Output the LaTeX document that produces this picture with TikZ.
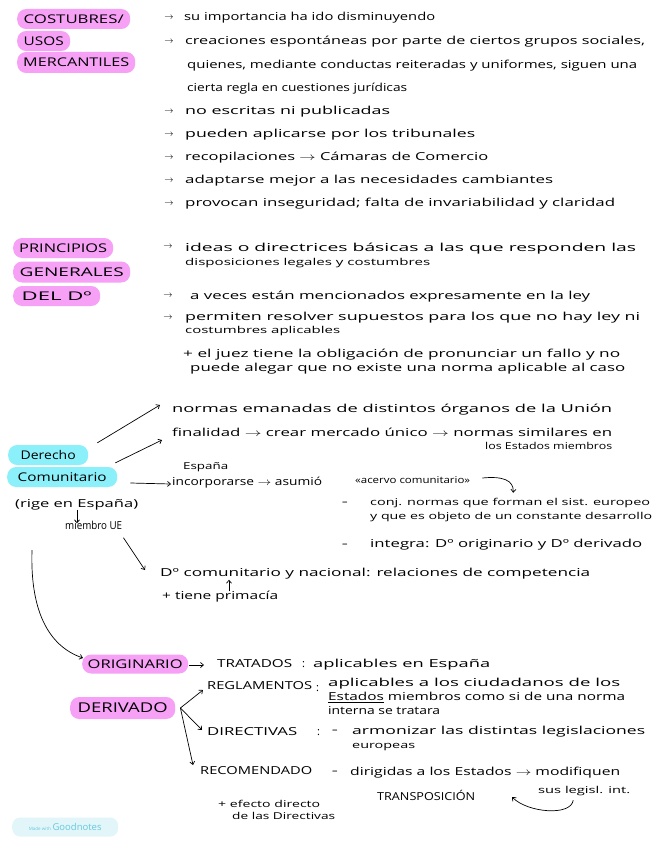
\documentclass[tikz,border=0pt]{standalone}
\usepackage{fontspec}
\setmainfont{Open Sans}
\usepackage{graphicx}
\usetikzlibrary{arrows.meta,calc}
\definecolor{pinkhl}{RGB}{246,160,246}
\definecolor{cyanhl}{RGB}{140,240,250}
\definecolor{gnbg}{RGB}{226,246,250}
\definecolor{gntx}{RGB}{100,200,222}
\newlength\fitlen
\newcommand\fitto[2]{\settowidth\fitlen{#2}\pgfmathsetmacro\fitsx{(#1)/\fitlen}\scalebox{\fitsx}[1]{#2}}
\newcommand\hw[5]{\node[txt] (#1) at (#2,#4) {\fitto{#3-#2}{#5}};}
\newcommand\hws[5]{\node[txt,font=\fontsize{9.5}{12}\selectfont] (#1) at (#2,#4) {\fitto{#3-#2}{#5}};}
\newcommand\bul[3]{\node[bulst] (#1) at (#2,#3) {$\rightarrow$};}
\tikzset{
  txt/.style={anchor=west, inner sep=0pt, font=\fontsize{11}{13}\selectfont, execute at begin node=\strut},
  bulst/.style={inner sep=0pt, font=\fontsize{9}{11}\selectfont},
  pill/.style={anchor=west, inner sep=0pt, rounded corners=9pt, minimum height=20pt, font=\fontsize{12}{14}\selectfont},
  pinkpill/.style={pill, fill=pinkhl},
  cyanpill/.style={pill, fill=cyanhl},
  conn/.style={line width=0.7pt, -{Straight Barb[length=3pt,width=5pt]}},
}
\begin{document}
\begin{tikzpicture}[x=1pt,y=-1pt]
\useasboundingbox (0,0) rectangle (656,848);
\fill[white] (0,0) rectangle (656,848);

% ---------- Section 1 ----------
\node[pinkpill, minimum width=113pt] (costu) at (17,19) {\fitto{100}{COSTUBRES/}};
\node[pinkpill, minimum width=53pt] (usos) at (17,41) {\fitto{40}{USOS}};
\node[pinkpill, minimum width=118pt, minimum height=21pt] (merc) at (17,62.5) {\fitto{106}{MERCANTILES}};

\bul{b1}{169}{18} \bul{b2}{169}{42} \bul{b3}{169}{112} \bul{b4}{169}{135}
\bul{b5}{169}{158} \bul{b6}{169}{181} \bul{b7}{169}{204}
\hw{sa}{184}{435}{18}{su importancia ha ido disminuyendo}
\hw{sb}{185}{645}{42}{creaciones espontáneas por parte de ciertos grupos sociales,}
\hw{sc}{187}{637}{66}{quienes, mediante conductas reiteradas y uniformes, siguen una}
\hw{sd}{187}{407}{89}{cierta regla en cuestiones jurídicas}
\hw{se}{185}{390}{112}{no escritas ni publicadas}
\hw{sf}{185}{475}{135}{pueden aplicarse por los tribunales}
\hw{sg}{185}{488}{158}{recopilaciones $\rightarrow$ Cámaras de Comercio}
\hw{sh}{185}{553}{181}{adaptarse mejor a las necesidades cambiantes}
\hw{si}{185}{615}{204}{provocan inseguridad; falta de invariabilidad y claridad}

% ---------- Section 2 ----------
\node[pinkpill, minimum width=100pt] (princ) at (13,248) {\fitto{88}{PRINCIPIOS}};
\node[pinkpill, minimum width=117pt, minimum height=21pt] (gener) at (13,272) {\fitto{104}{GENERALES}};
\node[pinkpill, minimum width=87pt] (deldo) at (13,296) {\fitto{70}{DEL Dº}};

\bul{c1}{168}{247} \bul{c2}{168}{296} \bul{c3}{168}{318}
\hw{pa}{185}{636}{249}{ideas o directrices básicas a las que responden las}
\hws{pb}{185}{430}{263}{disposiciones legales y costumbres}
\hw{pc}{190}{590}{297}{a veces están mencionados expresamente en la ley}
\hw{pd}{185}{640}{318}{permiten resolver supuestos para los que no hay ley ni}
\hws{pe}{185}{340}{331}{costumbres aplicables}
\hw{pf}{183}{620}{355}{+ el juez tiene la obligación de pronunciar un fallo y no}
\hw{pg}{190}{625}{369}{puede alegar que no existe una norma aplicable al caso}

% ---------- Section 3 ----------
\node[cyanpill, minimum width=80pt] (derecho) at (8,455) {\fitto{55}{Derecho}};
\node[cyanpill, minimum width=110pt] (comun) at (7,477) {\fitto{89}{Comunitario}};
\hw{rige}{15}{138}{505}{(rige en España)}
\hw{miembro}{65}{122}{527}{miembro UE}

\hw{normas}{172}{612}{410}{normas emanadas de distintos órganos de la Unión}
\hw{final}{172}{612}{434}{finalidad $\rightarrow$ crear mercado único $\rightarrow$ normas similares en}
\hws{estm}{485}{612}{447}{los Estados miembros}
\hws{espana}{183}{228}{467}{España}
\hw{incorp}{172}{322}{483}{incorporarse $\rightarrow$ asumió}
\hws{acervo}{355}{470}{481}{«acervo comunitario»}
\node[txt] (d1) at (342,503) {–};
\hws{conj}{370}{650}{503}{conj. normas que forman el sist. europeo}
\hws{yque}{370}{652}{517}{y que es objeto de un constante desarrollo}
\node[txt] (d2) at (342,545) {–};
\hw{integra}{370}{642}{545}{integra: Dº originario y Dº derivado}
\hw{dcom}{160}{590}{574}{Dº comunitario y nacional: relaciones de competencia}
\hw{prim}{162}{278}{597}{+ tiene primacía}

\draw[conn] ($(derecho.north east)+(9,-2)$) -- ($(normas.west)+(-12,-5)$);
\draw[conn] ($(comun.north east)+(-2,-4)$) -- ($(final.west)+(-10,6)$);
\draw[conn] ($(comun.east)+(13,6)$) -- ($(incorp.west)+(-1,1)$);
\draw[conn] ($(acervo.east)+(12,-3)$) .. controls +(20,-2) and (514,480) .. ($(conj.north)+(3,-4)$);
\draw[conn] ($(rige.south west)+(62,-2)$) -- ($(miembro.north west)+(12,3)$);
\draw[conn] ($(miembro.south east)+(1,4)$) -- ($(dcom.west)+(-15,-4)$);
\draw[conn] ($(prim.north west)+(67,1)$) -- ($(dcom.south west)+(69,-1)$);

% ---------- Section 4 ----------
\coordinate (cstart) at (32,550);
\node[pinkpill, minimum width=106pt, minimum height=19pt] (orig) at (82,664) {\fitto{95}{ORIGINARIO}};
\node[pinkpill, minimum width=105pt, minimum height=22pt, font=\fontsize{13.5}{15}\selectfont] (deriv) at (70,708) {\fitto{90}{DERIVADO}};
\draw[conn] (cstart) .. controls (30,610) and (48,646) .. ($(orig.west)+(1,-6)$);

\hw{trat}{217}{292}{665}{TRATADOS}
\node[txt] (col1) at (302,665) {:};
\hw{aplic}{313}{490}{665}{aplicables en España}
\draw[conn] ($(orig.east)+(1,1)$) -- ($(trat.west)+(-13,0)$);

\hw{regl}{207}{312}{687}{REGLAMENTOS}
\node[txt] (col2) at (316,689) {:};
\hw{reg1}{328}{620}{684}{aplicables a los ciudadanos de los}
\hw{reg2}{328}{625}{698}{\underline{Estados} miembros como si de una norma}
\hw{reg3}{328}{440}{712}{interna se tratara}

\hw{dir}{207}{297}{733}{DIRECTIVAS}
\node[txt] (col3) at (317,733) {:};
\node[txt] (d3) at (332,731) {–};
\hw{dir1}{352}{645}{732}{armonizar las distintas legislaciones}
\hws{dir2}{352}{415}{746}{europeas}

\hw{recom}{200}{312}{772}{RECOMENDADO}
\node[txt] (d4) at (332,772) {–};
\hw{rec1}{350}{620}{773}{dirigidas a los Estados $\rightarrow$ modifiquen}
\hws{rec2}{538}{630}{791}{sus legisl. int.}
\hw{transp}{377}{475}{797}{TRANSPOSICIÓN}
\hws{efec}{218}{320}{805}{+ efecto directo}
\hws{efec2}{232}{335}{817}{de las Directivas}

\coordinate (br) at ($(deriv.east)+(5,0)$);
\draw[conn] (br) -- ($(regl.west)+(-4,3)$);
\draw[conn] (br) -- ($(dir.west)+(-5,-3)$);
\draw[conn] (br) -- ($(recom.west)+(-7,-7)$);
\coordinate (tend) at (512,797);
\draw[conn] ($(rec2.south)+(-11,3)$) .. controls +(-2,16) and (528,813) .. (tend);

% ---------- badge ----------
\node[fill=gnbg, rounded corners=8pt, minimum width=106pt, minimum height=19pt, inner sep=0pt, anchor=west] (gn) at (12,827)
  {\textcolor{gntx}{\fontsize{4.5}{5}\selectfont Made with}\,\textcolor{gntx}{\fontsize{9.5}{10}\selectfont Goodnotes}};
\end{tikzpicture}
\end{document}
